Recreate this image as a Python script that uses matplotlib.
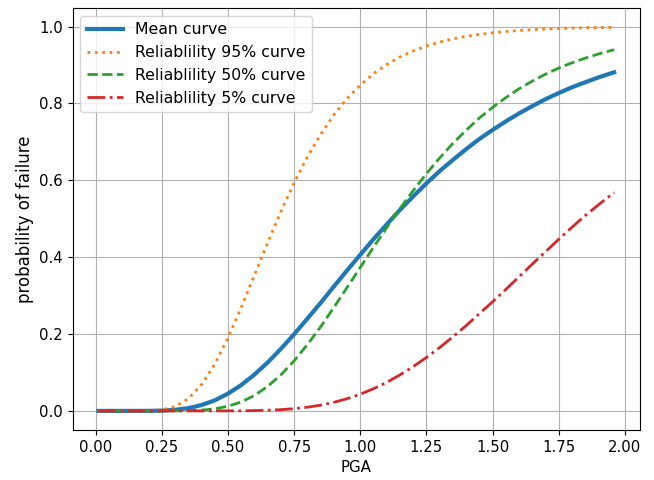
import matplotlib
matplotlib.use("Agg")
import matplotlib.pyplot as plt

pga = [0.01, 0.05, 0.10, 0.15, 0.20, 0.25, 0.30, 0.35, 0.40, 0.45, 0.50, 0.55, 0.60, 0.65,
       0.70, 0.75, 0.80, 0.85, 0.90, 0.95, 1.00, 1.05, 1.10, 1.15, 1.20, 1.25, 1.30, 1.35,
       1.40, 1.45, 1.50, 1.55, 1.60, 1.65, 1.70, 1.75, 1.80, 1.85, 1.90, 1.95, 1.96]

mean_curve = [0.0, 0.0, 0.0, 0.0, 0.0001, 0.0008, 0.0028, 0.0072, 0.0152, 0.0275, 0.0450,
              0.0673, 0.0946, 0.126, 0.1615, 0.1996, 0.240, 0.281, 0.3235, 0.3654, 0.4063,
              0.4467, 0.4853, 0.523, 0.558, 0.592, 0.624, 0.653, 0.681, 0.7075, 0.731,
              0.7533, 0.774, 0.793, 0.811, 0.827, 0.842, 0.855, 0.8676, 0.879, 0.881]

rel95 = [0.0, 0.0, 0.0, 0.0, 0.0003, 0.0027, 0.0113, 0.0317, 0.0683, 0.1214, 0.1905, 0.2692,
         0.3534, 0.4377, 0.5187, 0.5933, 0.661, 0.719, 0.770, 0.8125, 0.848, 0.8774, 0.9012,
         0.921, 0.9366, 0.9495, 0.9597, 0.968, 0.9745, 0.9798, 0.9838, 0.9872, 0.9898,
         0.9919, 0.9935, 0.9949, 0.9959, 0.9967, 0.9974, 0.9979, 0.998]

rel50 = [0.0, 0.0, 0.0, 0.0, 0.0, 0.0, 0.0001, 0.0006, 0.0020, 0.0054, 0.0121, 0.0233, 0.0403,
         0.0638, 0.0938, 0.1303, 0.1726, 0.2186, 0.269, 0.321, 0.3733, 0.4258, 0.4768,
         0.5267, 0.573, 0.6172, 0.658, 0.696, 0.730, 0.762, 0.7896, 0.815, 0.838, 0.858,
         0.876, 0.892, 0.9057, 0.9177, 0.9286, 0.938, 0.9397]

rel05 = [0.0, 0.0, 0.0, 0.0, 0.0, 0.0, 0.0, 0.0, 0.0, 0.0, 0.0001, 0.0003, 0.0008, 0.0017,
         0.0033, 0.0058, 0.0096, 0.0149, 0.0223, 0.0317, 0.0434, 0.0577, 0.0742, 0.0937,
         0.1151, 0.139, 0.1648, 0.1927, 0.2218, 0.253, 0.2837, 0.316, 0.3487, 0.3817, 0.414,
         0.4463, 0.4777, 0.508, 0.536, 0.563, 0.568]

labels = ["Mean curve", "Reliablility 95% curve", "Reliablility 50% curve", "Reliablility 5% curve"]

fig, ax = plt.subplots(figsize=(6.54, 4.8), dpi=100)
fig.subplots_adjust(left=0.111, right=0.9786, top=0.983, bottom=0.104)

ax.plot(pga, mean_curve, color="#1f77b4", linewidth=3, linestyle="-", label=labels[0])
ax.plot(pga, rel95, color="#ff7f0e", linewidth=2, linestyle=":", label=labels[1])
ax.plot(pga, rel50, color="#2ca02c", linewidth=2, linestyle="--", label=labels[2])
ax.plot(pga, rel05, color="#d62728", linewidth=2, linestyle="-.", label=labels[3])

ax.set_xlabel("PGA", fontsize=10.8)
ax.set_ylabel("probability of failure", fontsize=12)
ax.tick_params(labelsize=10.7)
ax.grid(True)
ax.legend(loc="upper left", fontsize=11.3, handlelength=2.3)

fig.savefig("out.png", dpi=100)
